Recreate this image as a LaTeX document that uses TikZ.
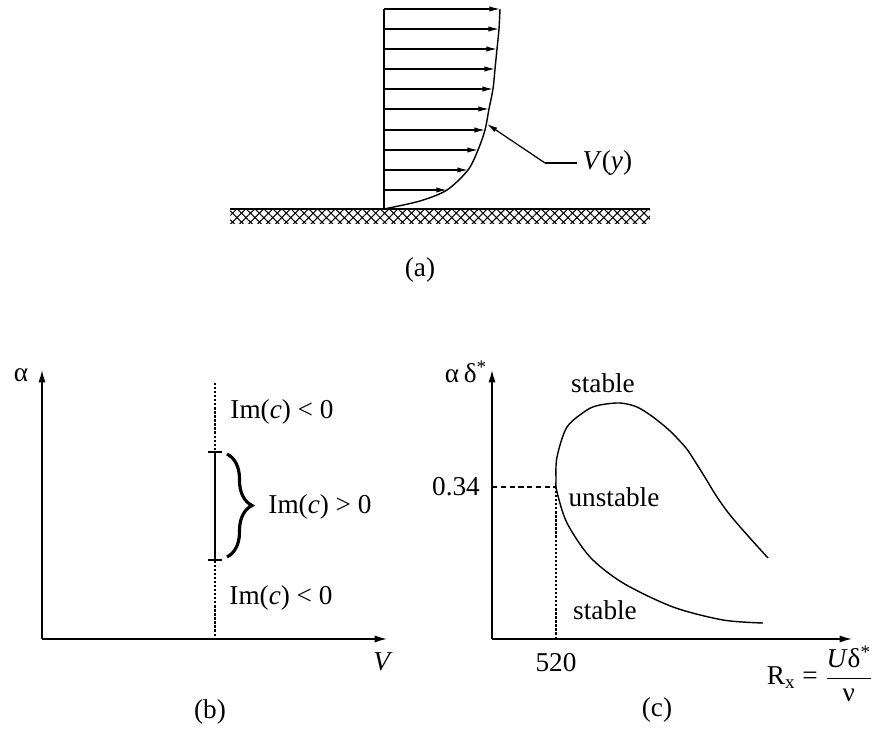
\documentclass[tikz,border=0pt]{standalone}
\usepackage{fontspec}
\setmainfont{Liberation Serif}
\usepackage{amsmath}
\usetikzlibrary{arrows.meta, positioning, decorations.pathreplacing, patterns.meta}
\tikzset{
  axis/.style={-{Latex[length=7pt,width=4pt]}, line width=0.8pt},
  flow/.style={-{Latex[length=6pt,width=3pt]}, line width=0.7pt},
  curve/.style={line width=0.8pt},
  lab/.style={font=\fontsize{15.5}{18}\selectfont, inner sep=1pt},
  guide/.style={densely dashed, line width=0.6pt},
  dotguide/.style={densely dotted, line width=1.3pt},
  hatch/.style={pattern={Lines[angle=#1,distance=3.6pt,line width=0.6pt]}},
}

\begin{document}
\begin{tikzpicture}[x=0.02cm, y=-0.02cm]
  \useasboundingbox (0,0) rectangle (883,732);

  % (a) boundary layer profile
  \coordinate (walltop) at (384,9);
  \coordinate (wallbot) at (384,209);
  \fill[hatch=45] (230,210) rectangle (650,224);
  \fill[hatch=-45] (230,210) rectangle (650,224);
  \draw[line width=1pt] (230,209) -- (650,209);
  \draw[curve] (walltop) -- (wallbot);
  \draw[curve] plot[smooth] coordinates {(384,209) (420,201) (447,190) (468,170) (478,150)
    (485,130) (489,109) (493,89) (495,69) (497,49) (499,29) (500,9)};
  \foreach \y/\x in {9/500, 29/499, 49/497, 69/495, 89/493, 109/489, 130/485, 150/478, 170/468, 190/447}
    \draw[flow] (384,\y) -- (\x,\y);
  % label V(y)
  \coordinate (vtip) at (487,124);
  \coordinate (vknee) at (545,163);
  \coordinate (vend) at (577,163);
  \draw[flow] (vknee) -- (vtip);
  \draw[line width=0.7pt] (vknee) -- (vend);
  \node[lab, right=2pt of vend] (vlab) {\textit{V}(\textit{y})};
  \node[lab] (capa) at (420,270) {(a)};

  % (b) alpha - V plane
  \coordinate (borig) at (42,639);
  \draw[axis] (borig) -- (42,370);
  \draw[axis] (borig) -- (387,639);
  \node[lab] (alab) at (21,375) {α};
  \node[lab] (vaxis) at (383,662) {\textit{V}};
  \draw[dotguide] (215,383) -- (215,639);
  \coordinate (seghi) at (215,452);
  \coordinate (seglo) at (215,560);
  \draw[line width=1pt] (seghi) -- (seglo);
  \draw[line width=1pt] (208,452) -- (222,452);
  \draw[line width=1pt] (208,560) -- (222,560);
  \draw[line width=1.8pt, decorate, decoration={brace, amplitude=0.5cm}] (227,454) -- (227,557);
  \node[lab] (imtop) at (282,412) {Im(\textit{c}) < 0};
  \node[lab] (immid) at (320,507) {Im(\textit{c}) > 0};
  \node[lab] (imbot) at (281,598) {Im(\textit{c}) < 0};
  \node[lab] (capb) at (210,712) {(b)};

  % (c) neutral stability curve
  \coordinate (corig) at (492,639);
  \draw[axis] (corig) -- (492,370);
  \draw[axis] (corig) -- (852,639);
  \node[lab] (adlab) at (466,372) {α\,δ\textsuperscript{*}};
  \draw[curve] plot[smooth] coordinates {(768,558) (749,537) (730,515) (717,497) (706,479)
    (696,463) (686,448) (670,431) (653,417) (637,407) (620,403) (600,405) (587,410)
    (567,427) (557,457) (556,480) (557,492) (567,523) (590,557)
    (623,583) (673,607) (723,620) (763,623)};
  \coordinate (crit) at (556,487);
  \draw[guide] (492,487) -- (crit);
  \draw[dotguide] (crit) -- (556,639);
  \node[lab] (val34) at (456,487) {0.34};
  \node[lab] (val520) at (556,663) {520};
  \node[lab] (sttop) at (603,383) {stable};
  \node[lab] (unst) at (614,497) {unstable};
  \node[lab] (stbot) at (605,610) {stable};
  \node[lab] (rlab) at (820,674) {R\textsubscript{x} = $\dfrac{\mbox{\textit{U}δ\textsuperscript{*}}}{\mbox{ν}}$};
  \node[lab] (capc) at (657,710) {(c)};
\end{tikzpicture}
\end{document}
